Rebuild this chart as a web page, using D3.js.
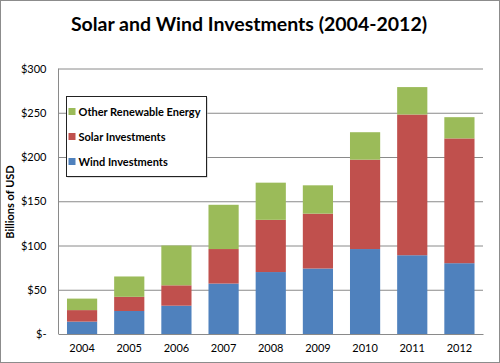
<!DOCTYPE html>
<html>
<head>
<meta charset="utf-8">
<script src="https://cdn.jsdelivr.net/npm/d3@7"></script>
<style>
  body { margin: 0; background: #fff; }
  svg text { font-family: Lato, "Open Sans", sans-serif; fill: #000; }
</style>
</head>
<body>
<svg id="chart" width="500" height="363"></svg>
<script>
// data (billions of USD)
const years = ["2004", "2005", "2006", "2007", "2008", "2009", "2010", "2011", "2012"];
const wind  = [14, 26, 32, 57, 70, 74, 96, 89, 80];
const solar = [13, 16, 23, 39, 59, 62, 101, 159, 141];
const other = [13, 23, 45, 50, 42, 32, 31, 31, 24];
const yTicks = [0, 50, 100, 150, 200, 250, 300];
const seriesNames = ["Wind Investments", "Solar Investments", "Other Renewable Energy"];
const colors = ["#4F81BD", "#C0504D", "#9BBB59"];

let svg = d3.select("#chart");
let width = +svg.attr("width"),
    height = +svg.attr("height");

// frame
svg.append("rect")
    .attr("x", 0.5).attr("y", 0.5)
    .attr("width", width - 1).attr("height", height - 1)
    .attr("fill", "#fff")
    .attr("stroke", "#8c8c8c");

let plot = { left: 58.5, right: 483, top: 68.5, bottom: 334 };

let x = d3.scaleBand()
    .domain(years)
    .range([plot.left, plot.right])
    .paddingInner(0.36)
    .paddingOuter(0.18);

let y = d3.scaleLinear()
    .domain([0, 300])
    .range([plot.bottom, plot.top]);

// gridlines + y labels
let yAxis = svg.append("g")
    .attr("transform", "translate(" + plot.left + ",0)")
    .call(d3.axisLeft(y)
        .tickValues(yTicks)
        .tickSize(-(plot.right - plot.left))
        .tickPadding(12)
        .tickFormat(function (d) { return d === 0 ? "$-" : "$" + d; }));
yAxis.select(".domain").remove();
yAxis.selectAll("line").attr("stroke", "#8a8a8a");
yAxis.selectAll("text").style("font-size", "11px").attr("fill", "#222");

// y axis line
svg.append("line")
    .attr("x1", plot.left).attr("x2", plot.left)
    .attr("y1", plot.top).attr("y2", plot.bottom)
    .attr("stroke", "#8a8a8a");

// stacked bars
let rows = years.map(function (yr, i) {
    return { year: yr, wind: wind[i], solar: solar[i], other: other[i] };
});
let stack = d3.stack().keys(["wind", "solar", "other"]);
let layers = stack(rows);

svg.append("g")
    .selectAll("g")
    .data(layers)
    .enter().append("g")
    .attr("fill", function (d, i) { return colors[i]; })
    .selectAll("rect")
    .data(function (d) { return d; })
    .enter().append("rect")
    .attr("x", function (d) { return x(d.data.year); })
    .attr("width", x.bandwidth())
    .attr("y", function (d) { return y(d[1]); })
    .attr("height", function (d) { return y(d[0]) - y(d[1]); });

// x axis
let xAxis = svg.append("g")
    .attr("transform", "translate(0," + plot.bottom + ")")
    .call(d3.axisBottom(x).tickSize(0).tickPadding(10));
xAxis.select(".domain").attr("stroke", "#8a8a8a");
xAxis.selectAll("text").style("font-size", "11px").attr("fill", "#222");

// title
svg.append("text")
    .attr("x", 249).attr("y", 31)
    .attr("text-anchor", "middle")
    .style("font-size", "19.5px")
    .style("font-weight", "bold")
    .text("Solar and Wind Investments (2004-2012)");

// y title
svg.append("text")
    .attr("transform", "translate(14,202) rotate(-90)")
    .attr("text-anchor", "middle")
    .style("font-size", "11px")
    .style("font-weight", "bold")
    .text("Billions of USD");

// legend
let legend = svg.append("g").attr("transform", "translate(66.5,96.5)");
legend.append("rect")
    .attr("x", 1).attr("y", 1)
    .attr("width", 140).attr("height", 80)
    .attr("fill", "#bbb");
legend.append("rect")
    .attr("width", 140).attr("height", 80)
    .attr("fill", "#fff")
    .attr("stroke", "#222");

let legendItems = [2, 1, 0];
legendItems.forEach(function (k, i) {
    let g = legend.append("g").attr("transform", "translate(0," + (15 + i * 25) + ")");
    g.append("rect")
        .attr("x", 2).attr("y", -3.5)
        .attr("width", 7).attr("height", 7)
        .attr("fill", colors[k]);
    g.append("text")
        .attr("x", 12).attr("y", 4)
        .style("font-size", "11px")
        .style("font-weight", "bold")
        .text(seriesNames[k]);
});
</script>
</body>
</html>
